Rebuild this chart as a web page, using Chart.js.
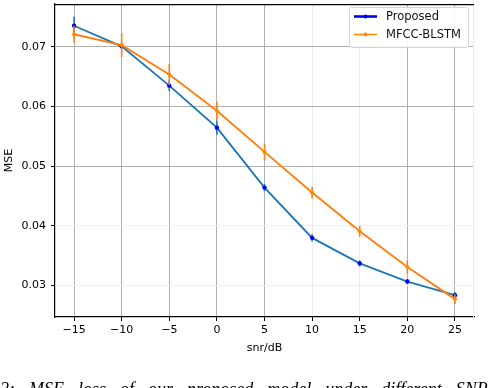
<!DOCTYPE html>
<html><head><meta charset="utf-8">
<script src="https://cdn.jsdelivr.net/npm/chart.js@4.4.0/dist/chart.umd.min.js"></script>
<style>
html,body{margin:0;padding:0;background:#fff;overflow:hidden}
#wrap{position:relative;width:488px;height:388px;overflow:hidden;background:#fff}
#caption{position:absolute;left:0;top:380px;width:488px;white-space:nowrap;font-family:"Liberation Serif",serif;font-style:italic;font-size:18px;color:#000;line-height:18px;word-spacing:9.5px}
</style></head><body>
<div id="wrap"><canvas id="c" width="488" height="388"></canvas><div id="caption">2: MSE loss of our proposed model under different SNR</div></div>
<script>
const snr = [-15, -10, -5, 0, 5, 10, 15, 20, 25];
const proposedMSE = [0.07355, 0.0701, 0.0635, 0.05645, 0.04639, 0.03795, 0.03367, 0.03062, 0.02833];
const proposedErr = [0.0015, 0.0005, 0.0009, 0.0012, 0.0006, 0.0006, 0.0005, 0.0004, 0.0005];
const mfccMSE = [0.07212, 0.0703, 0.06538, 0.05928, 0.05238, 0.04555, 0.03905, 0.03305, 0.02767];
const mfccErr = [0.0014, 0.002, 0.0018, 0.0015, 0.0014, 0.001, 0.0009, 0.0011, 0.0008];
const xTicks = [-15, -10, -5, 0, 5, 10, 15, 20, 25];
const yTicks = [0.03, 0.04, 0.05, 0.06, 0.07];
const seriesNames = ['Proposed', 'MFCC-BLSTM'];

const errorBars = {
  id: 'errorBars',
  beforeDatasetDraw(chart, args) {
    const ds = chart.data.datasets[args.index];
    if (!ds.errors) return;
    const ctx = chart.ctx, xs = chart.scales.x, ys = chart.scales.y, a = chart.chartArea;
    ctx.save();
    ctx.beginPath(); ctx.rect(a.left, a.top, a.right - a.left, a.bottom - a.top); ctx.clip();
    ctx.strokeStyle = ds.borderColor; ctx.lineWidth = 1.6;
    ds.data.forEach((p, i) => {
      const x = xs.getPixelForValue(p.x);
      ctx.beginPath();
      ctx.moveTo(x, ys.getPixelForValue(p.y - ds.errors[i]));
      ctx.lineTo(x, ys.getPixelForValue(p.y + ds.errors[i]));
      ctx.stroke();
    });
    ctx.restore();
  }
};

const frame = {
  id: 'frame',
  afterDatasetsDraw(chart) {
    const ctx = chart.ctx, a = chart.chartArea;
    ctx.save();
    ctx.strokeStyle = '#ebebeb'; ctx.lineWidth = 1;
    ctx.beginPath(); ctx.moveTo(a.right - 0.5, a.top); ctx.lineTo(a.right - 0.5, a.bottom); ctx.stroke();
    ctx.strokeStyle = '#000'; ctx.lineWidth = 1.2;
    ctx.beginPath(); ctx.moveTo(a.left, a.top + 0.6); ctx.lineTo(a.right, a.top + 0.6); ctx.stroke();
    // legend
    const bx = 349, by = 7, bw = 119, bh = 40;
    ctx.fillStyle = 'rgba(255,255,255,0.85)';
    ctx.strokeStyle = '#d6d6d6'; ctx.lineWidth = 1;
    ctx.beginPath();
    if (ctx.roundRect) ctx.roundRect(bx + 0.5, by + 0.5, bw, bh, 2); else ctx.rect(bx + 0.5, by + 0.5, bw, bh);
    ctx.fill(); ctx.stroke();
    const rows = [
      {c: '#0000ff', w: 2.6, mc: '#0000ff'},
      {c: '#ff8c00', w: 1.6, mc: '#ff8c00'}
    ];
    ctx.font = '11.5px "DejaVu Sans"';
    ctx.textBaseline = 'middle';
    rows.forEach((r, i) => {
      const y = 16.5 + i * 18;
      ctx.strokeStyle = r.c; ctx.lineWidth = r.w;
      ctx.beginPath(); ctx.moveTo(354, y); ctx.lineTo(377, y); ctx.stroke();
      ctx.fillStyle = r.mc;
      ctx.beginPath(); ctx.arc(365.5, y, 2, 0, Math.PI * 2); ctx.fill();
      ctx.fillStyle = '#111';
      ctx.fillText(seriesNames[i], 386, y + 0.5);
    });
    ctx.restore();
  }
};

const minus = v => String(v).replace('-', '\u2212');

new Chart(document.getElementById('c'), {
  type: 'line',
  data: {
    datasets: [
      {
        label: seriesNames[1],
        data: snr.map((x, i) => ({x, y: mfccMSE[i]})),
        errors: mfccErr,
        borderColor: '#ff7f0e', backgroundColor: '#ff8c00',
        borderWidth: 1.9, pointRadius: 2, pointBorderWidth: 0,
        pointBackgroundColor: '#ff8c00', tension: 0, order: 0
      },
      {
        label: seriesNames[0],
        data: snr.map((x, i) => ({x, y: proposedMSE[i]})),
        errors: proposedErr,
        borderColor: '#1f77b4', backgroundColor: '#0000ff',
        borderWidth: 1.9, pointRadius: 2.2, pointBorderWidth: 0,
        pointBackgroundColor: '#0000ff', tension: 0, order: 1
      }
    ]
  },
  options: {
    responsive: false, animation: false, devicePixelRatio: 1,
    layout: {padding: {left: 0, top: 2, right: 14, bottom: 30}},
    plugins: {legend: {display: false}, tooltip: {enabled: false}},
    scales: {
      x: {
        type: 'linear', min: -17, max: 27,
        afterBuildTicks: s => { s.ticks = xTicks.map(v => ({value: v})); },
        afterFit: s => { s.height = 41; s.paddingLeft = 0; s.paddingRight = 0; },
        ticks: {callback: v => minus(v), color: '#000', font: {family: 'DejaVu Sans', size: 11}, padding: 3, maxRotation: 0},
        grid: {
          color: c => (c.tick && (c.tick.value === 10 || c.tick.value === 15)) ? '#ececec' : '#b0b0b0',
          lineWidth: 1, tickLength: 4, tickColor: '#000', tickWidth: 1
        },
        border: {color: '#000', width: 1.2},
        title: {display: true, text: 'snr/dB', color: '#000', font: {family: 'DejaVu Sans', size: 11}, padding: {top: 0, bottom: 3.4}}
      },
      y: {
        type: 'linear', min: 0.02467, max: 0.0772,
        afterBuildTicks: s => { s.ticks = yTicks.map(v => ({value: v})); },
        afterFit: s => { s.width = 55; s.paddingTop = 0; s.paddingBottom = 0; },
        ticks: {callback: v => v.toFixed(2), color: '#000', font: {family: 'DejaVu Sans', size: 11}, padding: 5},
        grid: {
          color: c => (c.tick && c.tick.value < 0.045) ? '#f0f0f0' : '#b0b0b0',
          lineWidth: 1, tickLength: 4, tickColor: '#000', tickWidth: 1
        },
        border: {color: '#000', width: 1.2},
        title: {display: true, text: 'MSE', color: '#000', font: {family: 'DejaVu Sans', size: 11}, padding: {top: 3, bottom: 0}}
      }
    }
  },
  plugins: [errorBars, frame]
});
</script>
</body></html>
